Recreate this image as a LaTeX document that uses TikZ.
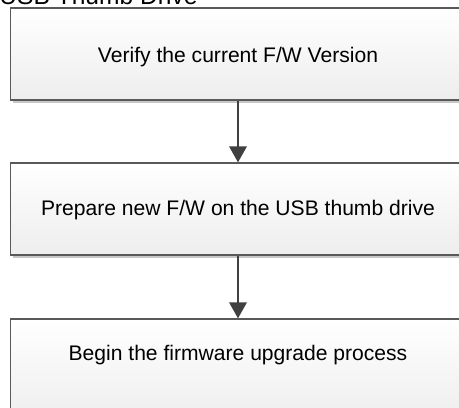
\documentclass[tikz,border=0pt]{standalone}
\usepackage{fontspec}
\setmainfont{Liberation Sans}
\usetikzlibrary{arrows.meta,shadows}

\tikzset{
  stepbox/.style={draw=black!65, line width=0.6pt, top color=white, bottom color=black!7,
    minimum width=9.12cm, minimum height=1.84cm, inner sep=0pt,
    drop shadow={shadow xshift=0.06cm, shadow yshift=-0.06cm, fill=black!22, opacity=1}},
  steptext/.style={font=\fontsize{12}{14}\selectfont, inner sep=0pt},
  flow/.style={draw=black!75, line width=1.7pt, -{Triangle[width=0.34cm,length=0.32cm]}}
}

\begin{document}
\begin{tikzpicture}[x=0.02cm, y=-0.02cm]
            \useasboundingbox (0, 0) rectangle (459, 408);

            %%title, cut off at the top
            \node[anchor=base west, inner sep=0pt, font=\fontsize{14}{16}\selectfont] (title) at (-1, 5){USB Thumb Drive};

            %%boxes
            \node[stepbox] (s1) at (238, 54){};
            \node[steptext] (t1) at (238, 57){Verify the current F/W Version};
            \node[stepbox] (s2) at (238, 209){};
            \node[steptext] (t2) at (238, 210){Prepare new F/W on the USB thumb drive};
            \node[stepbox, minimum height=2.1cm] (s3) at (238, 371.5){};
            \node[steptext] (t3) at (238, 355){Begin the firmware upgrade process};

            %%arrows
            \draw[flow] (s1.south) to (s2.north);
            \draw[flow] (s2.south) to (s3.north);
        \end{tikzpicture}
\end{document}
